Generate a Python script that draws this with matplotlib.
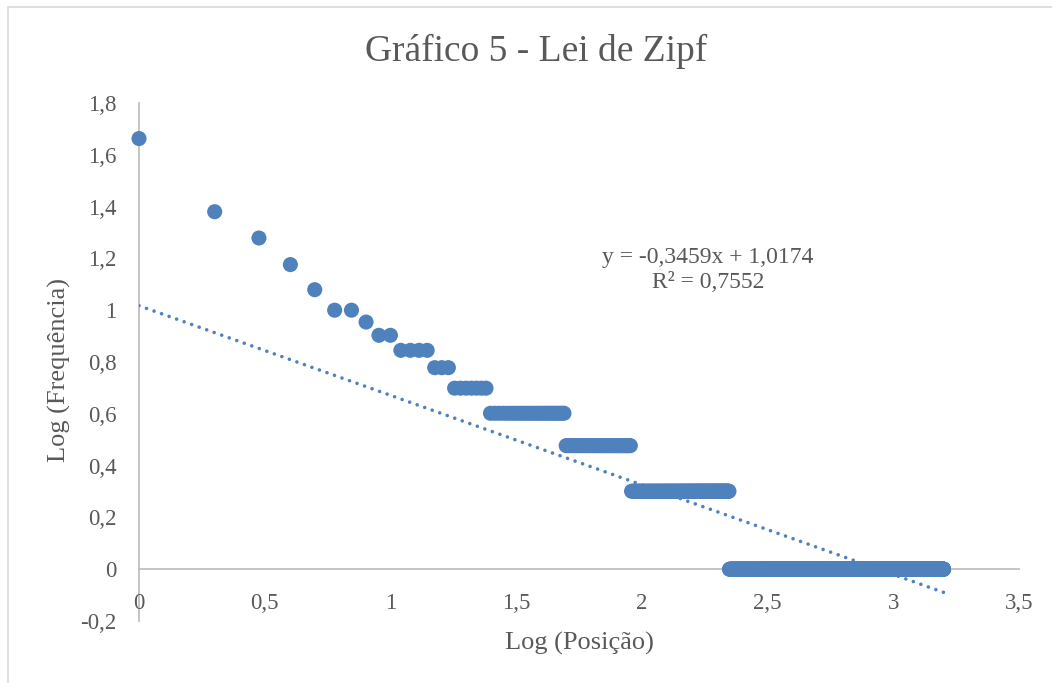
import numpy as np
import matplotlib
matplotlib.use("Agg")
import matplotlib.pyplot as plt
from matplotlib.patches import Rectangle

# ---- data ----
# word frequency levels and how many words share each level (in rank order)
frequencies = [46, 24, 19, 15, 12, 10, 9, 8, 7, 6, 5, 4, 3, 2, 1]
word_counts = [1, 1, 1, 1, 1, 2, 1, 2, 4, 3, 7, 25, 41, 132, 1363]

trend_slope = -0.3459
trend_intercept = 1.0174
trend_label = "y = -0,3459x + 1,0174\nR² = 0,7552"

title = "Gráfico 5 - Lei de Zipf"
x_label = "Log (Posição)"
y_label = "Log (Frequência)"
x_ticks = [0, 0.5, 1, 1.5, 2, 2.5, 3, 3.5]
x_ticklabels = ["0", "0,5", "1", "1,5", "2", "2,5", "3", "3,5"]
y_ticks = [-0.2, 0, 0.2, 0.4, 0.6, 0.8, 1, 1.2, 1.4, 1.6, 1.8]
y_ticklabels = ["-0,2", "0", "0,2", "0,4", "0,6", "0,8", "1", "1,2", "1,4", "1,6", "1,8"]

# ranks and log values
freq_per_word = np.repeat(frequencies, word_counts)
ranks = np.arange(1, len(freq_per_word) + 1)
log_rank = np.log10(ranks)
log_freq = np.log10(freq_per_word)

# ---- style ----
FONT = "Liberation Serif"
plt.rcParams["font.family"] = [FONT, "DejaVu Serif"]
BLUE = "#4F81BD"
GREY_TXT = "#595959"
AXIS_CLR = "#BFBFBF"

W, H = 1052, 683
fig = plt.figure(figsize=(W / 100, H / 100), dpi=100)
fig.patch.set_facecolor("white")

# chart border (Excel chart area)
fig.patches.append(Rectangle((8 / W, -0.05), 1.1, (H - 7) / H + 0.05,
                             transform=fig.transFigure, fill=False,
                             edgecolor="#D9D9D9", linewidth=1.2))

left, right = 139 / W, 1019 / W
bottom, top = 1 - 621 / H, 1 - 103 / H
ax = fig.add_axes([left, bottom, right - left, top - bottom])
ax.set_xlim(0, 3.5)
ax.set_ylim(-0.2, 1.8)

# trendline
x_tr = np.array([0, log_rank.max()])
ax.plot(x_tr, trend_slope * x_tr + trend_intercept, color=BLUE,
        linewidth=2.6, linestyle=(0, (0.01, 2.2)), dash_capstyle="round",
        zorder=2)

# scatter points
ax.scatter(log_rank, log_freq, s=118, color=BLUE, edgecolors="none",
           zorder=3, clip_on=False)

# axes styling
for s in ["top", "right"]:
    ax.spines[s].set_visible(False)
ax.spines["bottom"].set_position(("data", 0))
ax.spines["left"].set_position(("data", 0))
for s in ["bottom", "left"]:
    ax.spines[s].set_color(AXIS_CLR)
    ax.spines[s].set_linewidth(1.3)
    ax.spines[s].set_zorder(1)

ax.set_xticks(x_ticks)
ax.set_xticklabels(x_ticklabels)
ax.set_yticks(y_ticks)
ax.set_yticklabels(y_ticklabels)
ax.tick_params(axis="x", length=0, pad=17, labelsize=16.5, labelcolor=GREY_TXT)
ax.tick_params(axis="y", length=0, pad=16, labelsize=16.5, labelcolor=GREY_TXT)

# titles
fig.text(536.5 / W, 1 - 51 / H, title, ha="center", va="center",
         fontsize=27, color=GREY_TXT)
fig.text(579 / W, 1 - 643 / H, x_label, ha="center", va="center",
         fontsize=19, color=GREY_TXT)
fig.text(59 / W, 1 - 370 / H, y_label, ha="center", va="center",
         fontsize=19, color=GREY_TXT, rotation=90)

# trendline equation
fig.text(708 / W, 1 - 270 / H, trend_label, ha="center", va="center",
         fontsize=17, color=GREY_TXT, linespacing=1.2)

fig.savefig("out.png", dpi=100, facecolor="white")
